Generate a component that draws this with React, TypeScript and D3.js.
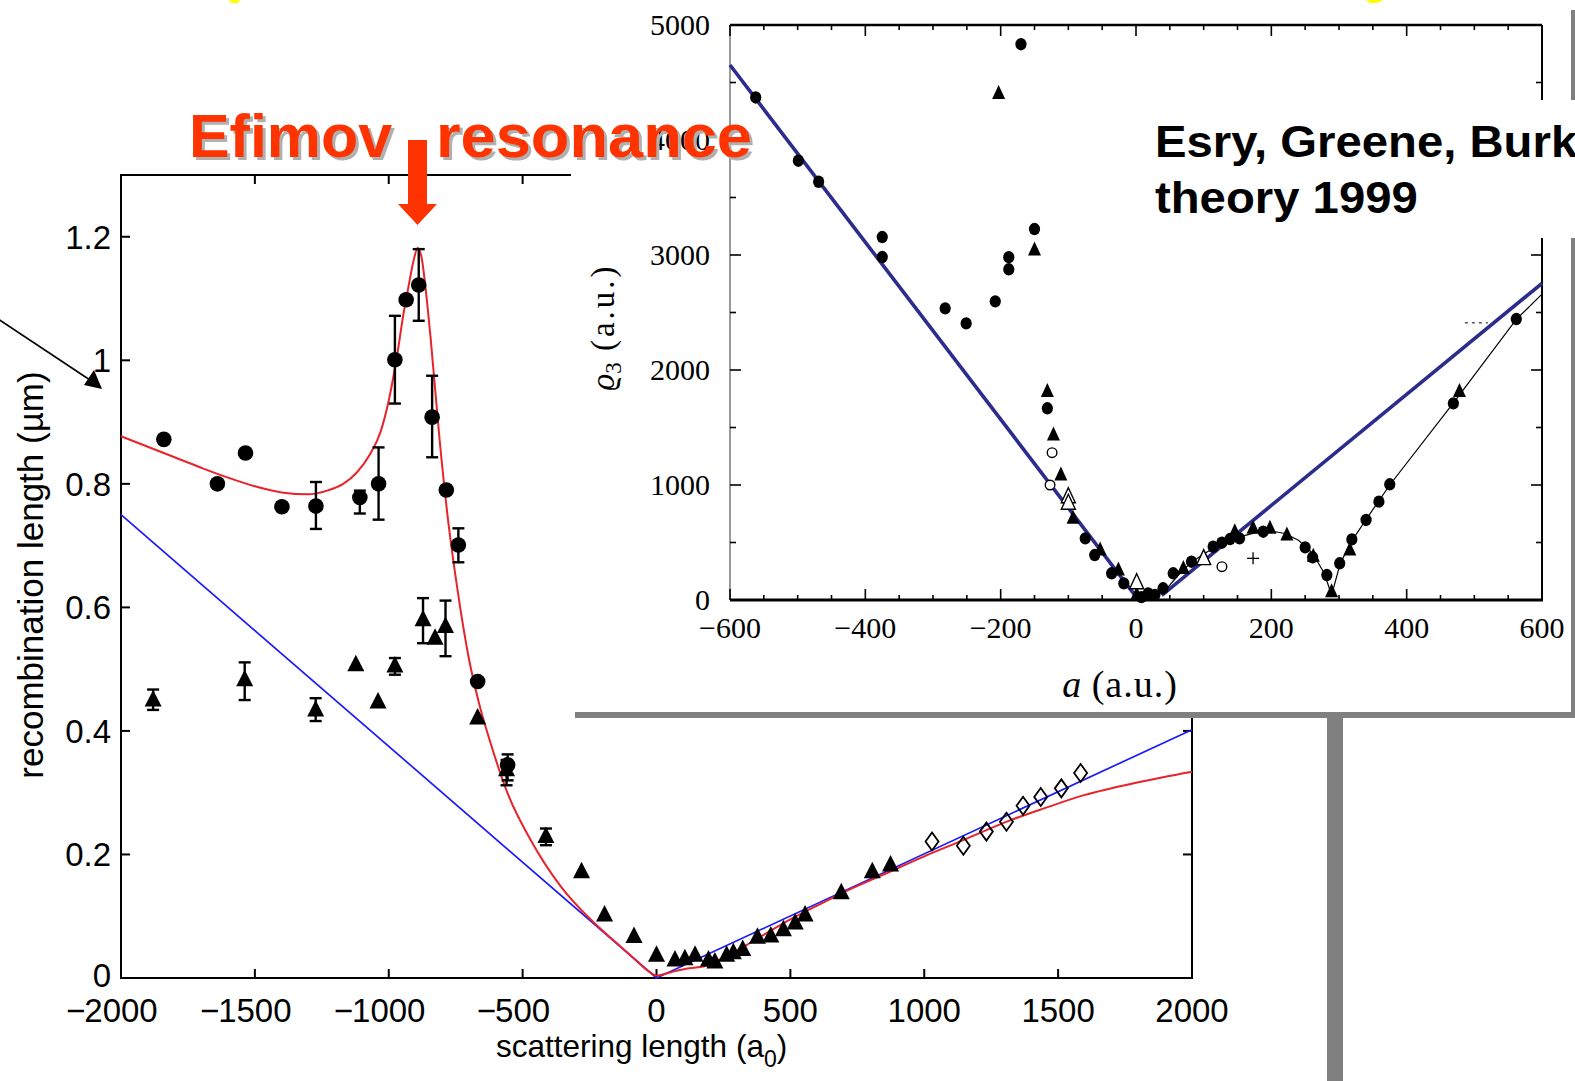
import React from 'react';
import * as d3 from 'd3';

const WIDTH = 1575;
const HEIGHT = 1081;

const SANS = "'Liberation Sans', Arial, Helvetica, sans-serif";
const SERIF = "'Liberation Serif', 'Times New Roman', Times, serif";

// ---------- main panel: recombination length vs scattering length ----------
const mainXTicks = [-2000, -1500, -1000, -500, 0, 500, 1000, 1500, 2000];
const mainYTicks = [0, 0.2, 0.4, 0.6, 0.8, 1.0, 1.2];
const mainYLabels = ['0', '0.2', '0.4', '0.6', '0.8', '1', '1.2'];

// [a (a0), L (µm), error low, error high]
const circleSeries: [number, number, number | null, number | null][] = [
  [-1840, 0.872, null, null],
  [-1640, 0.800, null, null],
  [-1535, 0.850, null, null],
  [-1399, 0.763, null, null],
  [-1272, 0.764, 0.727, 0.803],
  [-1108, 0.778, 0.752, 0.789],
  [-1038, 0.800, 0.742, 0.859],
  [-977, 1.001, 0.930, 1.072],
  [-935, 1.098, null, null],
  [-888, 1.122, 1.064, 1.180],
  [-838, 0.908, 0.843, 0.975],
  [-785, 0.790, null, null],
  [-740, 0.701, 0.673, 0.728],
  [-668, 0.480, null, null],
  [-556, 0.345, 0.320, 0.362],
];

const triangleSeries: [number, number, number | null, number | null][] = [
  [-1880, 0.450, 0.434, 0.467],
  [-1538, 0.483, 0.450, 0.511],
  [-1273, 0.434, 0.416, 0.453],
  [-1123, 0.507, null, null],
  [-1040, 0.447, null, null],
  [-977, 0.505, 0.491, 0.518],
  [-872, 0.580, 0.542, 0.615],
  [-827, 0.550, null, null],
  [-788, 0.569, 0.521, 0.611],
  [-668, 0.421, null, null],
  [-560, 0.337, 0.312, 0.353],
  [-413, 0.229, 0.215, 0.242],
  [-280, 0.172, null, null],
  [-194, 0.102, null, null],
  [-84, 0.067, null, null],
  [0, 0.037, null, null],
  [69, 0.029, null, null],
  [106, 0.031, null, null],
  [144, 0.037, null, null],
  [194, 0.029, null, null],
  [218, 0.026, null, null],
  [262, 0.037, null, null],
  [287, 0.041, null, null],
  [322, 0.046, null, null],
  [377, 0.066, null, null],
  [427, 0.068, null, null],
  [474, 0.078, null, null],
  [518, 0.089, null, null],
  [555, 0.102, null, null],
  [690, 0.138, null, null],
  [806, 0.172, null, null],
  [874, 0.183, null, null],
];

const diamondSeries: [number, number][] = [
  [1029, 0.221], [1146, 0.214], [1232, 0.237], [1307, 0.253],
  [1369, 0.279], [1435, 0.293], [1512, 0.307], [1584, 0.332],
];

// Efimov theory curve
const efimovCurve: [number, number][] = [
  [-2000, 0.877], [-1900, 0.860], [-1800, 0.843], [-1700, 0.826], [-1600, 0.810],
  [-1500, 0.796], [-1400, 0.786], [-1300, 0.783], [-1230, 0.789], [-1170, 0.800],
  [-1120, 0.818], [-1070, 0.848], [-1030, 0.885], [-1000, 0.935], [-970, 1.005],
  [-945, 1.075], [-926, 1.120], [-908, 1.160], [-892, 1.182], [-878, 1.168],
  [-862, 1.115], [-843, 1.033], [-810, 0.871], [-777, 0.736], [-743, 0.628],
  [-702, 0.520], [-660, 0.440], [-623, 0.385], [-556, 0.299], [-470, 0.2235],
  [-357, 0.148], [-242, 0.093], [-150, 0.057], [-80, 0.030], [-30, 0.011],
  [0, 0.004], [50, 0.009], [110, 0.015], [180, 0.019], [250, 0.033],
  [335, 0.053], [420, 0.075], [500, 0.095], [600, 0.117], [700, 0.139],
  [850, 0.168], [1000, 0.197], [1150, 0.224], [1313, 0.254], [1450, 0.275],
  [1597, 0.296], [1800, 0.317], [2000, 0.334],
];

// universal linear scaling
const universalLine: [number, number][] = [[-2000, 0.75], [0, 0], [2000, 0.402]];

// ---------- inset: rho_3 vs a (a.u.) ----------
const insetXTicks = [-600, -400, -200, 0, 200, 400, 600];
const insetYTicks = [0, 1000, 2000, 3000, 4000, 5000];

const insetCircles: [number, number][] = [
  [-562, 4370], [-499, 3820], [-469, 3637], [-375, 3156], [-375, 2982],
  [-282, 2536], [-251, 2405], [-208, 2597], [-188, 2876], [-188, 2981],
  [-150, 3226], [-170, 4833],
  [-131, 1667], [-75, 536], [-61, 391], [-36, 232], [-18, 145],
  [8, 25], [18, 58], [28, 45], [40, 102], [55, 232], [82, 333],
  [114, 463], [127, 498], [139, 530], [153, 536], [188, 594],
  [250, 458], [261, 371], [282, 217], [301, 319], [319, 527],
  [340, 696], [359, 855], [375, 1006], [469, 1710], [562, 2443],
];

const insetTriangles: [number, number][] = [
  [-203, 4405], [-150, 3043], [-131, 1812], [-122, 1435], [-111, 1087],
  [-93, 710], [-53, 435], [-26, 261], [1, 45], [70, 275],
  [146, 594], [173, 623], [198, 623], [223, 565], [262, 380],
  [289, 72], [316, 435], [478, 1812],
];

const insetOpenCircles: [number, number][] = [[-124, 1281], [-127, 1000], [127, 290]];
const insetOpenTriangles: [number, number][] = [[-100, 898], [-100, 841], [1, 150], [100, 360]];
const insetPlus: [number, number][] = [[173, 362]];

// thin curve through the positive-a data
const insetFit: [number, number][] = [
  [40, 60], [60, 200], [80, 320], [100, 400], [120, 470], [150, 545],
  [180, 590], [200, 600], [220, 578], [240, 520], [255, 445], [265, 365],
  [275, 265], [283, 150], [289, 40], [295, 170], [302, 320], [318, 505],
  [340, 700], [375, 1000], [470, 1720], [562, 2440], [600, 2660],
];

// adiabatic hyperspherical estimates
const insetLeftLine: [number, number][] = [[-600, 4652], [0, 30]];
const insetRightLine: [number, number][] = [[38, 40], [600, 2754]];
const insetDash: [number, number][] = [[486, 2410], [520, 2410]];

const tri = (x: number, y: number, hw: number, up: number, down: number) =>
  `M${x},${y - up}L${x + hw},${y + down}L${x - hw},${y + down}Z`;

function MainPanel() {
  const x = d3.scaleLinear().domain([-2000, 2000]).range([121, 1192]);
  const y = d3.scaleLinear().domain([0, 1.3]).range([978, 175]);
  const [x0, x1] = x.range();
  const [y0, y1] = y.range();
  const redPath = d3.line<[number, number]>().x(d => x(d[0])).y(d => y(d[1]))
    .curve(d3.curveMonotoneX)(efimovCurve) || '';
  const bluePath = d3.line<[number, number]>().x(d => x(d[0])).y(d => y(d[1]))(universalLine) || '';
  const fs = 33;
  const errBar = (cx: number, lo: number | null, hi: number | null, key: string) =>
    lo === null || hi === null ? null : (
      <g key={key} stroke="#000" strokeWidth={2.4}>
        <line x1={cx} x2={cx} y1={y(lo)} y2={y(hi)} />
        <line x1={cx - 6} x2={cx + 6} y1={y(lo)} y2={y(lo)} />
        <line x1={cx - 6} x2={cx + 6} y1={y(hi)} y2={y(hi)} />
      </g>
    );
  return (
    <g>
      {/* frame */}
      <rect x={x0} y={y1} width={x1 - x0} height={y0 - y1} fill="none" stroke="#000" strokeWidth={2} />
      {mainXTicks.map(t => (
        <g key={'xt' + t} stroke="#000" strokeWidth={2}>
          <line x1={x(t)} x2={x(t)} y1={y0} y2={y0 - 9} />
          <line x1={x(t)} x2={x(t)} y1={y1} y2={y1 + 9} />
        </g>
      ))}
      {mainYTicks.map(t => (
        <g key={'yt' + t} stroke="#000" strokeWidth={2}>
          <line x1={x0} x2={x0 + 9} y1={y(t)} y2={y(t)} />
          <line x1={x1} x2={x1 - 9} y1={y(t)} y2={y(t)} />
        </g>
      ))}
      {/* tick labels */}
      {mainXTicks.map(t => {
        const digits = String(Math.abs(t));
        const dw = digits.length * 0.556 * fs;
        return (
          <g key={'xl' + t} fontFamily={SANS} fontSize={fs} fill="#000">
            <text x={x(t)} y={1022} textAnchor="middle">{digits}</text>
            {t < 0 && <text x={x(t) - dw / 2 + 1} y={1022} textAnchor="end">−</text>}
          </g>
        );
      })}
      {mainYTicks.map((t, i) => (
        <text key={'yl' + t} x={111} y={y(t) + (t === 0 ? 9 : 12)} textAnchor="end" fontFamily={SANS} fontSize={fs} fill="#000">
          {mainYLabels[i]}
        </text>
      ))}
      {/* axis titles */}
      <text x={496} y={1057} fontFamily={SANS} fontSize={31.5} fill="#000">
        scattering length (a<tspan fontSize={23} dy={10}>0</tspan><tspan dy={-10}>)</tspan>
      </text>
      <text transform="translate(43,575) rotate(-90)" textAnchor="middle" fontFamily={SANS} fontSize={35} fill="#000">
        recombination length (µm)
      </text>
      {/* curves */}
      <path d={bluePath} fill="none" stroke="#1a1aff" strokeWidth={1.7} />
      <path d={redPath} fill="none" stroke="#e8232a" strokeWidth={2} />
      {/* data */}
      {triangleSeries.map((d, i) => errBar(x(d[0]), d[2], d[3], 'te' + i))}
      {circleSeries.map((d, i) => errBar(x(d[0]), d[2], d[3], 'ce' + i))}
      {triangleSeries.map((d, i) => (
        <path key={'t' + i} d={tri(x(d[0]), y(d[1]), 8.5, 10, 6.5)} fill="#000" />
      ))}
      {circleSeries.map((d, i) => (
        <circle key={'c' + i} cx={x(d[0])} cy={y(d[1])} r={7.8} fill="#000" />
      ))}
      {diamondSeries.map((d, i) => {
        const cx = x(d[0]);
        const cy = y(d[1]);
        return (
          <path key={'d' + i} d={`M${cx},${cy - 9}L${cx + 6.5},${cy}L${cx},${cy + 9}L${cx - 6.5},${cy}Z`}
            fill="none" stroke="#000" strokeWidth={1.8} />
        );
      })}
    </g>
  );
}

function Inset() {
  const x = d3.scaleLinear().domain([-600, 600]).range([730, 1542]);
  const y = d3.scaleLinear().domain([0, 5000]).range([600, 25]);
  const [x0, x1] = x.range();
  const [y0, y1] = y.range();
  const line = d3.line<[number, number]>().x(d => x(d[0])).y(d => y(d[1]));
  const fitPath = d3.line<[number, number]>().x(d => x(d[0])).y(d => y(d[1]))(insetFit) || '';
  const xMinor = d3.range(-600, 601, 50);
  const yMinor = d3.range(0, 5001, 500);
  const navy = '#2c2c8c';
  return (
    <g>
      {/* axes */}
      <line x1={x0} x2={x0} y1={y1} y2={y0} stroke="#555" strokeWidth={1.2} />
      <line x1={x0} x2={x1} y1={y1} y2={y1} stroke="#000" strokeWidth={2.6} />
      <line x1={x0} x2={x1 + 1} y1={y0} y2={y0} stroke="#000" strokeWidth={3} />
      <line x1={x1} x2={x1} y1={y1} y2={y0} stroke="#000" strokeWidth={2} />
      {xMinor.map(t => {
        const len = t % 200 === 0 ? 11 : 5;
        return (
          <g key={'ixt' + t} stroke="#000" strokeWidth={1.6}>
            <line x1={x(t)} x2={x(t)} y1={y1} y2={y1 + len} />
            <line x1={x(t)} x2={x(t)} y1={y0} y2={y0 - len} />
          </g>
        );
      })}
      {yMinor.map(t => {
        const len = t % 1000 === 0 ? 11 : 6;
        return (
          <g key={'iyt' + t} stroke="#000" strokeWidth={1.6}>
            <line x1={x0} x2={x0 + len} y1={y(t)} y2={y(t)} />
            <line x1={x1} x2={x1 - len} y1={y(t)} y2={y(t)} />
          </g>
        );
      })}
      {insetXTicks.map(t => (
        <text key={'ixl' + t} x={x(t)} y={638} textAnchor="middle" fontFamily={SERIF} fontSize={30} fill="#000">
          {t < 0 ? '−' + Math.abs(t) : String(t)}
        </text>
      ))}
      {insetYTicks.map(t => (
        <text key={'iyl' + t} x={710} y={y(t) + 10} textAnchor="end" fontFamily={SERIF} fontSize={30} fill="#000">
          {t}
        </text>
      ))}
      <text transform="translate(614,327) rotate(-90)" textAnchor="middle" fontFamily={SERIF} fontSize={33} fill="#000">
        <tspan fontStyle="italic">ϱ</tspan><tspan fontSize={23} dy={7}>3</tspan>
        <tspan dy={-7} letterSpacing={3}> (a.u.)</tspan>
      </text>
      <text x={1120} y={697} textAnchor="middle" fontFamily={SERIF} fontSize={38} fill="#000">
        <tspan fontStyle="italic">a</tspan><tspan letterSpacing={1}> (a.u.)</tspan>
      </text>
      {/* theory lines */}
      <path d={line(insetLeftLine) || ''} fill="none" stroke={navy} strokeWidth={3.6} />
      <path d={line(insetRightLine) || ''} fill="none" stroke={navy} strokeWidth={3.6} />
      <path d={fitPath} fill="none" stroke="#000" strokeWidth={1.2} />
      <path d={line(insetDash) || ''} fill="none" stroke="#000" strokeWidth={1} strokeDasharray="3 4" />
      {/* data */}
      {insetCircles.map((d, i) => (
        <ellipse key={'ic' + i} cx={x(d[0])} cy={y(d[1])} rx={5.6} ry={6.2} fill="#000" />
      ))}
      {insetTriangles.map((d, i) => (
        <path key={'it' + i} d={tri(x(d[0]), y(d[1]), 6.5, 8.5, 5.5)} fill="#000" />
      ))}
      {insetOpenCircles.map((d, i) => (
        <circle key={'ioc' + i} cx={x(d[0])} cy={y(d[1])} r={4.8} fill="#fff" stroke="#000" strokeWidth={1.4} />
      ))}
      {insetOpenTriangles.map((d, i) => (
        <path key={'iot' + i} d={tri(x(d[0]), y(d[1]), 7, 9, 6)} fill="#fff" stroke="#000" strokeWidth={1.4} />
      ))}
      {insetPlus.map((d, i) => (
        <g key={'ip' + i} stroke="#000" strokeWidth={1.3}>
          <line x1={x(d[0]) - 6} x2={x(d[0]) + 6} y1={y(d[1])} y2={y(d[1])} />
          <line x1={x(d[0])} x2={x(d[0])} y1={y(d[1]) - 6} y2={y(d[1]) + 6} />
        </g>
      ))}
    </g>
  );
}

export default function App() {
  const orange = '#ff3300';
  return (
    <svg width={WIDTH} height={HEIGHT} viewBox={`0 0 ${WIDTH} ${HEIGHT}`}
      style={{ position: 'absolute', left: 0, top: 0, display: 'block', background: '#fff' }}>
      <rect x={0} y={0} width={WIDTH} height={HEIGHT} fill="#fff" />
      <MainPanel />
      {/* pointer arrow on the left */}
      <line x1={-2} y1={319} x2={90} y2={380} stroke="#000" strokeWidth={1.6} />
      <path d="M102,389 L84,385 L94,370 Z" fill="#000" />

      {/* inset card with grey drop frame */}
      <rect x={571} y={0} width={1000} height={712} fill="#fff" />
      <rect x={1571} y={10} width={4} height={708} fill="#808080" />
      <rect x={575} y={712} width={1000} height={6} fill="#808080" />
      <rect x={1327} y={718} width={16} height={HEIGHT - 718} fill="#808080" />
      <Inset />

      {/* citation box */}
      <rect x={1140} y={100} width={435} height={138} fill="#fff" />
      <g fontFamily={SANS} fontWeight="bold" fontSize={44} fill="#000">
        <text transform="translate(1155,157) scale(1.075,1)">Esry, Greene, Burke</text>
        <text transform="translate(1155,213) scale(1.075,1)">theory 1999</text>
      </g>

      {/* headline with arrow */}
      <g fontFamily={SANS} fontWeight="bold" fontSize={61}>
        <text x={192} y={160} fill="#b0b0b0" textLength={203} lengthAdjust="spacingAndGlyphs">Efimov</text>
        <text x={439} y={160} fill="#b0b0b0" textLength={316} lengthAdjust="spacingAndGlyphs">resonance</text>
        <text x={189} y={157} fill={orange} textLength={203} lengthAdjust="spacingAndGlyphs">Efimov</text>
        <text x={436} y={157} fill={orange} textLength={316} lengthAdjust="spacingAndGlyphs">resonance</text>
      </g>
      <rect x={408} y={140} width={19} height={65} fill={orange} />
      <path d="M398,204 L437,204 L417.5,225 Z" fill={orange} />

      {/* slide title descenders at the top edge */}
      <path d="M229,0 L240,0 L238,3 L231,3 Z" fill="#ffff00" />
      <path d="M1366,0 L1383,0 Q1378,4 1370,3 Z" fill="#ffff00" />
    </svg>
  );
}
